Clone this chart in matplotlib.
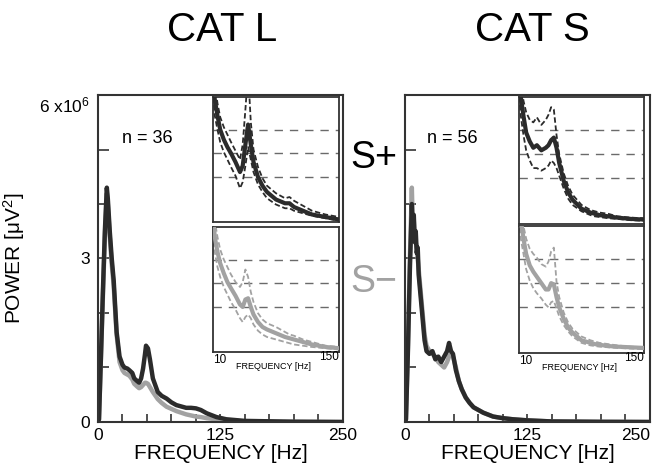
import matplotlib
matplotlib.use("Agg")
import matplotlib.pyplot as plt
import numpy as np

plt.rcParams["font.family"] = ["Liberation Sans", "DejaVu Sans"]
plt.rcParams["mathtext.fontset"] = "custom"
plt.rcParams["mathtext.rm"] = "Liberation Sans"
plt.rcParams["mathtext.default"] = "regular"

# ---- main spectra (power in units of 1e6 uV^2) ----
freq_l = [0, 1, 3, 5, 7, 9, 10, 12, 14, 16, 19, 22, 25, 27, 30, 32, 35, 37, 40, 42, 44,
          46, 48, 49, 51, 53, 56, 61, 65, 70, 75, 80, 90, 95, 100, 105, 111, 121, 131,
          150, 200, 250]
catl_plus = [0, 0.05, 1.2, 2.4, 3.5, 4.3, 4.1, 3.5, 3.0, 2.6, 1.65, 1.2, 1.05, 1.0, 0.98,
             0.95, 0.9, 0.8, 0.75, 0.72, 0.8, 0.98, 1.25, 1.4, 1.35, 1.15, 0.8, 0.55, 0.48,
             0.43, 0.36, 0.31, 0.26, 0.26, 0.25, 0.22, 0.16, 0.09, 0.05, 0.02, 0.005, 0]
catl_minus = [0, 0.05, 1.2, 2.3, 3.4, 4.2, 4.0, 3.4, 2.9, 2.5, 1.6, 1.1, 0.95, 0.9, 0.87,
              0.85, 0.78, 0.7, 0.65, 0.62, 0.64, 0.68, 0.72, 0.72, 0.7, 0.64, 0.55, 0.42,
              0.35, 0.28, 0.24, 0.2, 0.14, 0.12, 0.1, 0.09, 0.07, 0.05, 0.03, 0.01, 0.003, 0]

freq_s = [0, 1, 3, 5, 7, 8, 9, 10, 11, 12, 13, 14, 16, 18, 20, 22, 25, 28, 31, 34, 37,
          40, 43, 45, 47, 49, 52, 55, 58, 62, 66, 70, 80, 90, 100, 110, 125, 150, 200, 250]
cats_plus = [0, 0.05, 1.3, 2.8, 4.0, 3.5, 3.8, 3.3, 3.5, 3.1, 3.2, 2.7, 2.3, 1.9, 1.5,
             1.3, 1.25, 1.3, 1.15, 1.2, 1.1, 1.2, 1.3, 1.45, 1.3, 1.25, 0.95, 0.75, 0.6,
             0.45, 0.35, 0.27, 0.17, 0.1, 0.07, 0.05, 0.03, 0.01, 0.003, 0]
cats_minus = [0, 0.05, 1.4, 3.0, 4.3, 3.6, 3.7, 3.4, 3.3, 3.2, 3.0, 2.8, 2.4, 2.0, 1.6,
              1.4, 1.3, 1.25, 1.2, 1.1, 1.05, 1.0, 1.1, 1.2, 1.25, 1.2, 1.0, 0.75, 0.6,
              0.45, 0.35, 0.27, 0.17, 0.1, 0.07, 0.05, 0.03, 0.01, 0.003, 0]

# ---- inset spectra (normalised units), mean / upper / lower ----
inset_freq = [10, 12, 15, 18, 22, 26, 30, 35, 40, 43, 46, 49, 52, 55, 60, 65, 70, 80,
              90, 95, 100, 110, 120, 135, 150]

l_plus_mean = [1.15, 0.98, 0.85, 0.74, 0.66, 0.6, 0.55, 0.48, 0.4, 0.45, 0.62, 0.78,
               0.62, 0.48, 0.36, 0.29, 0.24, 0.18, 0.15, 0.15, 0.12, 0.09, 0.06, 0.04, 0.02]
l_plus_up = [1.3, 1.1, 0.95, 0.84, 0.76, 0.7, 0.64, 0.57, 0.5, 0.62, 0.9, 1.2, 0.8,
             0.58, 0.44, 0.35, 0.29, 0.23, 0.19, 0.2, 0.17, 0.13, 0.09, 0.06, 0.04]
l_plus_lo = [1.0, 0.85, 0.74, 0.64, 0.56, 0.5, 0.44, 0.37, 0.27, 0.32, 0.45, 0.6, 0.5,
             0.4, 0.3, 0.24, 0.19, 0.14, 0.11, 0.11, 0.09, 0.07, 0.05, 0.03, 0.01]

l_minus_mean = [1.1, 0.92, 0.8, 0.71, 0.63, 0.56, 0.51, 0.45, 0.38, 0.36, 0.42, 0.43,
                0.36, 0.3, 0.24, 0.2, 0.18, 0.15, 0.12, 0.11, 0.1, 0.08, 0.06, 0.04, 0.03]
l_minus_up = [1.2, 1.05, 0.92, 0.82, 0.74, 0.68, 0.62, 0.56, 0.52, 0.56, 0.66, 0.6,
              0.48, 0.4, 0.31, 0.26, 0.23, 0.2, 0.16, 0.14, 0.13, 0.1, 0.08, 0.05, 0.04]
l_minus_lo = [0.95, 0.8, 0.68, 0.6, 0.52, 0.46, 0.4, 0.34, 0.27, 0.24, 0.28, 0.3, 0.27,
              0.22, 0.17, 0.14, 0.12, 0.1, 0.08, 0.07, 0.06, 0.05, 0.04, 0.03, 0.02]

s_plus_mean = [1.2, 1.0, 0.85, 0.72, 0.65, 0.6, 0.62, 0.58, 0.6, 0.62, 0.66, 0.68, 0.6,
               0.48, 0.34, 0.25, 0.19, 0.12, 0.09, 0.08, 0.07, 0.06, 0.05, 0.04, 0.035]
s_plus_up = [1.3, 1.1, 0.97, 0.88, 0.82, 0.8, 0.84, 0.78, 0.82, 0.86, 0.92, 0.9, 0.7,
             0.55, 0.4, 0.3, 0.23, 0.15, 0.11, 0.1, 0.09, 0.08, 0.06, 0.05, 0.045]
s_plus_lo = [1.0, 0.85, 0.7, 0.58, 0.5, 0.44, 0.44, 0.42, 0.44, 0.46, 0.5, 0.48, 0.44,
             0.38, 0.28, 0.2, 0.15, 0.1, 0.07, 0.06, 0.055, 0.045, 0.04, 0.03, 0.025]

s_minus_mean = [1.2, 1.05, 0.9, 0.78, 0.69, 0.64, 0.6, 0.55, 0.5, 0.5, 0.55, 0.54, 0.44,
                0.36, 0.27, 0.2, 0.16, 0.1, 0.08, 0.07, 0.065, 0.055, 0.05, 0.045, 0.04]
s_minus_up = [1.3, 1.15, 1.0, 0.9, 0.82, 0.78, 0.75, 0.7, 0.68, 0.72, 0.8, 0.83, 0.56,
              0.44, 0.32, 0.24, 0.19, 0.13, 0.1, 0.09, 0.08, 0.07, 0.06, 0.05, 0.045]
s_minus_lo = [1.05, 0.9, 0.78, 0.66, 0.57, 0.51, 0.47, 0.43, 0.38, 0.36, 0.4, 0.41, 0.35,
              0.29, 0.22, 0.17, 0.13, 0.08, 0.06, 0.055, 0.05, 0.045, 0.04, 0.035, 0.03]

inset_grid = [0.36, 0.55, 0.74]

BLACK = "#2b2b2b"
GREY = "#a2a2a2"
FRAME = "#333333"


def style_main(ax, show_labels):
    ax.set_xlim(0, 250)
    ax.set_ylim(0, 6)
    for s in ax.spines.values():
        s.set_color(FRAME)
        s.set_linewidth(1.5)
    ticks = list(range(0, 251, 25))
    ax.set_xticks(ticks)
    ax.set_xticklabels([str(t) if t in (0, 125, 250) else "" for t in ticks])
    ax.set_yticks(np.arange(0, 7, 1))
    if show_labels:
        ax.set_yticklabels(["0", "", "", "3", "", "", "6 x10$^6$"])
        ax.get_yticklabels()[6].set_verticalalignment("top")
        ax.set_ylabel("POWER [$\\mu$V$^2$]", fontsize=15)
        ax.yaxis.set_label_coords(-0.29, 0.5)
    else:
        ax.set_yticklabels([])
        ax.get_xticklabels()[-1].set_horizontalalignment("right")
    ax.tick_params(axis="both", direction="in", color=FRAME, width=1.2,
                   labelsize=12.5, colors="black")
    ax.tick_params(axis="x", length=6, pad=4)
    ax.tick_params(axis="y", length=8, pad=6)
    ax.set_xlabel("FREQUENCY [Hz]", fontsize=15, labelpad=1)


def style_inset(ax, color, mean, up, lo, labels):
    ax.set_xlim(10, 150)
    ax.set_ylim(0, 1)
    ax.set_xticks([])
    ax.set_yticks([])
    for s in ax.spines.values():
        s.set_color(FRAME)
        s.set_linewidth(1.3)
    for g in inset_grid:
        ax.axhline(g, color="#6a6a6a", lw=1, dashes=(6, 5), zorder=1)
    ax.plot(inset_freq, up, color=color, lw=1.3, dashes=(3, 1.5), zorder=2)
    ax.plot(inset_freq, lo, color=color, lw=1.3, dashes=(3, 1.5), zorder=2)
    ax.plot(inset_freq, mean, color=color, lw=3, zorder=3)
    if labels:
        ax.text(0.0, -0.065, "10", transform=ax.transAxes, ha="left", va="center", fontsize=8.5)
        ax.text(1.0, -0.04, "150", transform=ax.transAxes, ha="right", va="center", fontsize=8.5)
        ax.text(0.48, -0.115, "FREQUENCY [Hz]", transform=ax.transAxes, ha="center",
                va="center", fontsize=6.5)


fig = plt.figure(figsize=(6.6, 4.68), dpi=100)

ax_l = fig.add_axes([0.1485, 0.0983, 0.371, 0.6987])
ax_l.plot(freq_l, catl_minus, color=GREY, lw=3.2)
ax_l.plot(freq_l, catl_plus, color=BLACK, lw=3.2)
style_main(ax_l, True)

ax_s = fig.add_axes([0.6136, 0.0983, 0.371, 0.6987])
ax_s.plot(freq_s, cats_minus, color=GREY, lw=3.2)
ax_s.plot(freq_s, cats_plus, color=BLACK, lw=3.2)
style_main(ax_s, False)

in_l1 = fig.add_axes([0.3227, 0.5256, 0.191, 0.267])
style_inset(in_l1, BLACK, l_plus_mean, l_plus_up, l_plus_lo, False)
in_l2 = fig.add_axes([0.3227, 0.2479, 0.191, 0.267])
style_inset(in_l2, GREY, l_minus_mean, l_minus_up, l_minus_lo, True)

in_s1 = fig.add_axes([0.7864, 0.5214, 0.1894, 0.2714])
style_inset(in_s1, BLACK, s_plus_mean, s_plus_up, s_plus_lo, False)
in_s2 = fig.add_axes([0.7864, 0.2457, 0.1894, 0.2714])
style_inset(in_s2, GREY, s_minus_mean, s_minus_up, s_minus_lo, True)

fig.text(0.336, 0.936, "CAT L", ha="center", va="center", fontsize=29)
fig.text(0.806, 0.936, "CAT S", ha="center", va="center", fontsize=29)
fig.text(0.567, 0.662, "S+", ha="center", va="center", fontsize=27, color="black")
fig.text(0.567, 0.397, "S\u2212", ha="center", va="center", fontsize=27, color=GREY)
fig.text(0.223, 0.705, "n = 36", ha="center", va="center", fontsize=13)
fig.text(0.686, 0.703, "n = 56", ha="center", va="center", fontsize=13)

fig.savefig("out.png", dpi=100)
